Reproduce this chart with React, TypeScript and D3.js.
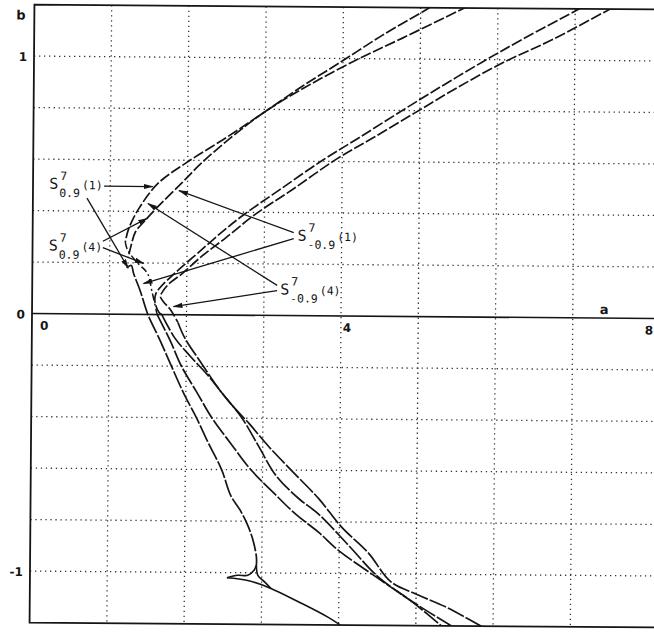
import React, { useEffect, useRef } from "react";
import * as d3 from "d3";

const W = 654;
const H = 632;

// axis ticks and grid
const xTicks = [0, 4, 8];
const yTicks = [1, 0, -1];
const xGrid = [1, 2, 3, 4, 5, 6, 7];
const yGrid = [-1, -0.8, -0.6, -0.4, -0.2, 0.2, 0.4, 0.6, 0.8, 1];

// curves, points are [a, b]
const s09_1Upper = [[5.28, 1.23], [5.06, 1.19], [4.5, 1.09], [3.99, 0.99], [3.47, 0.89], [2.99, 0.79], [2.5, 0.69], [1.98, 0.59], [1.62, 0.51], [1.37, 0.41], [1.24, 0.33], [1.2, 0.28]];
const s09_1Vertex = [[1.2, 0.28], [1.23, 0.25], [1.36, 0.2], [1.49, 0.16], [1.55, 0.09], [1.62, 0]];
const s09_1Lower = [[1.62, 0], [1.79, -0.1], [1.94, -0.2], [2.14, -0.3], [2.34, -0.4], [2.59, -0.5], [2.85, -0.6], [3.15, -0.69], [3.43, -0.77], [3.73, -0.84], [3.99, -0.91], [4.47, -1.01], [5.02, -1.12], [5.63, -1.23]];
const s09_4Upper = [[5.77, 1.23], [5.5, 1.19], [4.76, 1.08], [4.14, 0.99], [3.53, 0.89], [2.99, 0.79], [2.56, 0.69], [2.18, 0.59], [1.92, 0.51], [1.59, 0.41], [1.44, 0.36], [1.33, 0.32], [1.27, 0.26], [1.24, 0.22]];
const s09_4Lower = [[1.22, 0.18], [1.28, 0.19], [1.31, 0.16], [1.4, 0.09], [1.5, 0], [1.66, -0.1], [1.81, -0.2], [1.98, -0.31], [2.14, -0.4], [2.3, -0.5], [2.47, -0.6], [2.59, -0.7], [2.72, -0.76], [2.82, -0.82], [2.89, -0.88], [2.93, -0.94], [2.93, -0.97]];
const cuspCurl = [[2.93, -0.97], [2.9, -0.99], [2.82, -1.01], [2.69, -1.01], [2.55, -1.02]];
const cuspLower = [[2.55, -1.02], [2.82, -1.03], [3.12, -1.06], [3.47, -1.11], [3.86, -1.17], [4.12, -1.22]];
const cuspRight = [[2.93, -0.97], [2.95, -1.01], [3.02, -1.03], [3.12, -1.06]];
const sm09_1Upper = [[7.23, 1.23], [6.99, 1.19], [6.32, 1.08], [5.8, 0.99], [5.25, 0.89], [4.72, 0.79], [4.2, 0.69], [3.75, 0.605], [3.2, 0.49], [2.73, 0.39], [2.48, 0.33], [2.14, 0.24], [1.84, 0.16], [1.67, 0.11], [1.6, 0.08], [1.59, 0.05], [1.64, 0.01], [1.68, 0]];
const sm09_1Lower = [[1.68, 0], [1.85, -0.09], [2.05, -0.16], [2.27, -0.23], [2.46, -0.3], [2.73, -0.4], [2.95, -0.51], [3.17, -0.62], [3.47, -0.71], [3.73, -0.77], [4.12, -0.89], [4.5, -1.01], [4.96, -1.11], [5.41, -1.22]];
const sm09_4Upper = [[7.64, 1.23], [7.39, 1.19], [6.71, 1.08], [6.08, 0.99], [5.48, 0.89], [4.93, 0.79], [4.38, 0.69], [3.93, 0.61], [3.36, 0.49], [2.87, 0.39], [2.5, 0.3], [2.2, 0.23], [1.94, 0.16], [1.77, 0.12], [1.69, 0.09], [1.66, 0.07], [1.7, 0.05], [1.79, 0.02], [1.89, -0.03]];
const sm09_4Lower = [[1.89, -0.03], [1.98, -0.09], [2.18, -0.18], [2.46, -0.3], [2.63, -0.36], [2.82, -0.42], [3.08, -0.51], [3.37, -0.6], [3.73, -0.71], [4.03, -0.82], [4.38, -0.92], [4.67, -1.03], [5.02, -1.08], [5.41, -1.13], [6.02, -1.23]];

const curves = [
  { key: "upper", pts: s09_1Upper },
  { key: "dashdot", pts: s09_1Vertex },
  { key: "lower", pts: s09_1Lower },
  { key: "upper", pts: s09_4Upper },
  { key: "lower", pts: s09_4Lower },
  { key: "solid", pts: cuspCurl },
  { key: "solid", pts: cuspLower },
  { key: "solid", pts: cuspRight },
  { key: "upper", pts: sm09_1Upper },
  { key: "lower", pts: sm09_1Lower },
  { key: "upper", pts: sm09_4Upper },
  { key: "lower", pts: sm09_4Lower },
];

// labels: S^7_sub(n) at [a, b]
const labels = [
  { at: [0.21, 0.485], sub: "0.9", n: "(1)" },
  { at: [0.21, 0.245], sub: "0.9", n: "(4)" },
  { at: [3.43, 0.291], sub: "-0.9", n: "(1)" },
  { at: [3.21, 0.082], sub: "-0.9", n: "(4)" },
];

const arrows = [
  { from: [0.92, 0.497], to: [1.55, 0.497] },
  { from: [0.7, 0.45], to: [1.24, 0.18] },
  { from: [0.91, 0.283], to: [1.48, 0.373] },
  { from: [0.91, 0.258], to: [1.44, 0.198] },
  { from: [3.38, 0.322], to: [1.89, 0.482] },
  { from: [3.38, 0.299], to: [1.44, 0.12] },
  { from: [3.17, 0.117], to: [1.49, 0.431] },
  { from: [3.17, 0.097], to: [1.83, 0.031] },
];

const styles: Record<string, { dash: string | null; w: number }> = {
  upper: { dash: "11 2.5", w: 1.7 },
  lower: { dash: "18 2", w: 1.7 },
  dashdot: { dash: "7 3 2 3", w: 1.5 },
  solid: { dash: null, w: 1.6 },
};

export default function App() {
  const ref = useRef<SVGSVGElement | null>(null);

  useEffect(() => {
    const svg = d3.select(ref.current);
    svg.selectAll("*").remove();

    const x = d3.scaleLinear().domain([0, 8]).range([32, 650]);
    const y = d3.scaleLinear().domain([-1.2, 1.2]).range([625, 7]);
    const ink = "#151515";

    const defs = svg.append("defs");
    defs.append("clipPath").attr("id", "plot")
      .append("rect").attr("x", x(0)).attr("y", y(1.2)).attr("width", W - x(0) + 10).attr("height", y(-1.2) - y(1.2));
    defs.append("marker").attr("id", "ah").attr("viewBox", "0 0 10 10")
      .attr("refX", 9).attr("refY", 5).attr("markerWidth", 10).attr("markerHeight", 10)
      .attr("markerUnits", "userSpaceOnUse").attr("orient", "auto")
      .append("path").attr("d", "M0,2.4 L10,5 L0,7.6 Z").attr("fill", ink);

    // the scanned figure sits slightly askew
    const g = svg.append("g").attr("transform", `rotate(0.45, ${x(4)}, ${y(0)})`);

    // dotted grid
    g.selectAll("line.vg").data(xGrid).join("line").attr("class", "vg")
      .attr("x1", (d) => x(d)).attr("x2", (d) => x(d))
      .attr("y1", y(1.2)).attr("y2", y(-1.2))
      .attr("stroke", "#333").attr("stroke-width", 1.3).attr("stroke-dasharray", "1.3 3.7");
    g.selectAll("line.hg").data(yGrid).join("line").attr("class", "hg")
      .attr("x1", x(0)).attr("x2", W + 6)
      .attr("y1", (d) => y(d)).attr("y2", (d) => y(d))
      .attr("stroke", "#333").attr("stroke-width", 1.3).attr("stroke-dasharray", "1.3 3.7");

    // frame and a-axis
    g.append("path")
      .attr("d", `M${W + 8},${y(1.2)} H${x(0)} V${y(-1.2)} H${W + 8}`)
      .attr("fill", "none").attr("stroke", ink).attr("stroke-width", 1.8);
    g.append("line").attr("x1", x(0)).attr("x2", W + 8).attr("y1", y(0)).attr("y2", y(0))
      .attr("stroke", ink).attr("stroke-width", 1.6);

    const font = "'DejaVu Sans', sans-serif";
    // tick labels
    g.selectAll("text.xt").data(xTicks).join("text").attr("class", "xt")
      .attr("x", (d) => x(d) + (d === 0 ? 8 : d === 8 ? -5 : 2)).attr("y", y(0) + 16)
      .attr("font-family", font).attr("font-weight", "bold").attr("font-size", 12).attr("fill", ink)
      .text((d) => String(d));
    g.selectAll("text.yt").data(yTicks).join("text").attr("class", "yt")
      .attr("x", x(0) - 7).attr("y", (d) => y(d) + 5).attr("text-anchor", "end")
      .attr("font-family", font).attr("font-weight", "bold").attr("font-size", 12).attr("fill", ink)
      .text((d) => (d < 0 ? "-" + Math.abs(d) : String(d)));
    g.append("text").attr("x", 14).attr("y", 22).attr("font-family", font).attr("font-weight", "bold")
      .attr("font-size", 13).attr("fill", ink).text("b");
    g.append("text").attr("x", x(7.35)).attr("y", y(0) - 4).attr("font-family", font).attr("font-weight", "bold")
      .attr("font-size", 13).attr("fill", ink).text("a");

    // curves
    const line = d3.line<number[]>()
      .x((d) => x(d[0])).y((d) => y(d[1]))
      .curve(d3.curveCatmullRom.alpha(0.5));
    const cg = g.append("g").attr("clip-path", "url(#plot)");
    cg.selectAll("path").data(curves).join("path")
      .attr("d", (d) => line(d.pts))
      .attr("fill", "none").attr("stroke", ink)
      .attr("stroke-width", (d) => styles[d.key].w)
      .attr("stroke-dasharray", (d) => styles[d.key].dash)
      .attr("stroke-linecap", "butt");

    // arrows
    g.selectAll("line.arr").data(arrows).join("line").attr("class", "arr")
      .attr("x1", (d) => x(d.from[0])).attr("y1", (d) => y(d.from[1]))
      .attr("x2", (d) => x(d.to[0])).attr("y2", (d) => y(d.to[1]))
      .attr("stroke", ink).attr("stroke-width", 1.3).attr("marker-end", "url(#ah)");

    // labels
    const mono = "'DejaVu Sans Mono', monospace";
    labels.forEach((l) => {
      const lx = x(l.at[0]);
      const ly = y(l.at[1]);
      const t = g.append("g").attr("font-family", mono).attr("fill", ink);
      t.append("text").attr("x", lx).attr("y", ly).attr("font-size", 15).text("S");
      t.append("text").attr("x", lx + 11).attr("y", ly - 9).attr("font-size", 11.5).text("7");
      t.append("text").attr("x", lx + 10).attr("y", ly + 8).attr("font-size", 11.5).text(l.sub);
      t.append("text").attr("x", lx + 12 + l.sub.length * 6.9).attr("y", ly).attr("font-size", 11.5).text(l.n);
    });
  }, []);

  return (
    <svg
      ref={ref}
      width={W}
      height={H}
      style={{ position: "absolute", left: 0, top: 0, background: "#fff" }}
    />
  );
}
